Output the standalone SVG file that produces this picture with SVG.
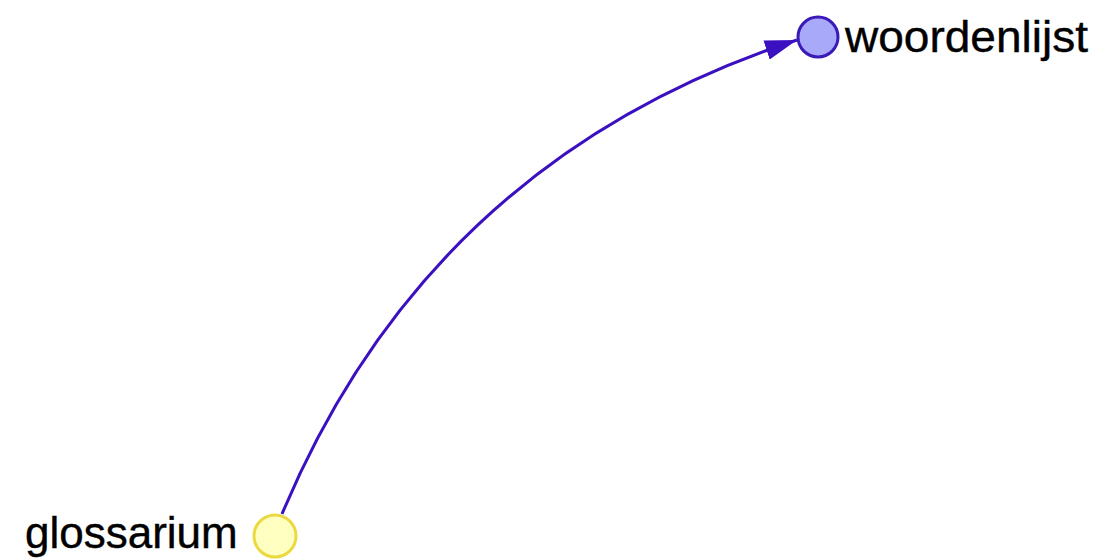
<svg xmlns="http://www.w3.org/2000/svg" width="1112" height="560" viewBox="0 0 1112 560">
<style>
.lbl{font-family:"Liberation Sans",Arial,sans-serif;font-size:44px;fill:#000;stroke:#000;stroke-width:0.4}
.edge{fill:none;stroke:#3a10c0;stroke-width:3}
</style>
<defs>
<marker id="arr" markerUnits="userSpaceOnUse" markerWidth="34" markerHeight="24" refX="32" refY="12" orient="auto">
<path d="M0,2 L32,12 L0,22 Z" fill="#3a10c0"/>
</marker>
</defs>
<rect width="1112" height="560" fill="#fff"/>
<g id="connectors">
<path class="edge" d="M282,514 Q430,160 797,40" marker-end="url(#arr)"/>
</g>
<g id="woordenlijst">
<circle cx="818" cy="37" r="20" fill="#a9a9f9" stroke="#3a1ab8" stroke-width="3"/>
<text class="lbl" x="845" y="52" textLength="243" lengthAdjust="spacingAndGlyphs">woordenlijst</text>
</g>
<g id="glossarium">
<circle cx="275" cy="536" r="21" fill="#ffffc2" stroke="#ebd940" stroke-width="3"/>
<text class="lbl" x="25" y="548">glossarium</text>
</g>
</svg>
